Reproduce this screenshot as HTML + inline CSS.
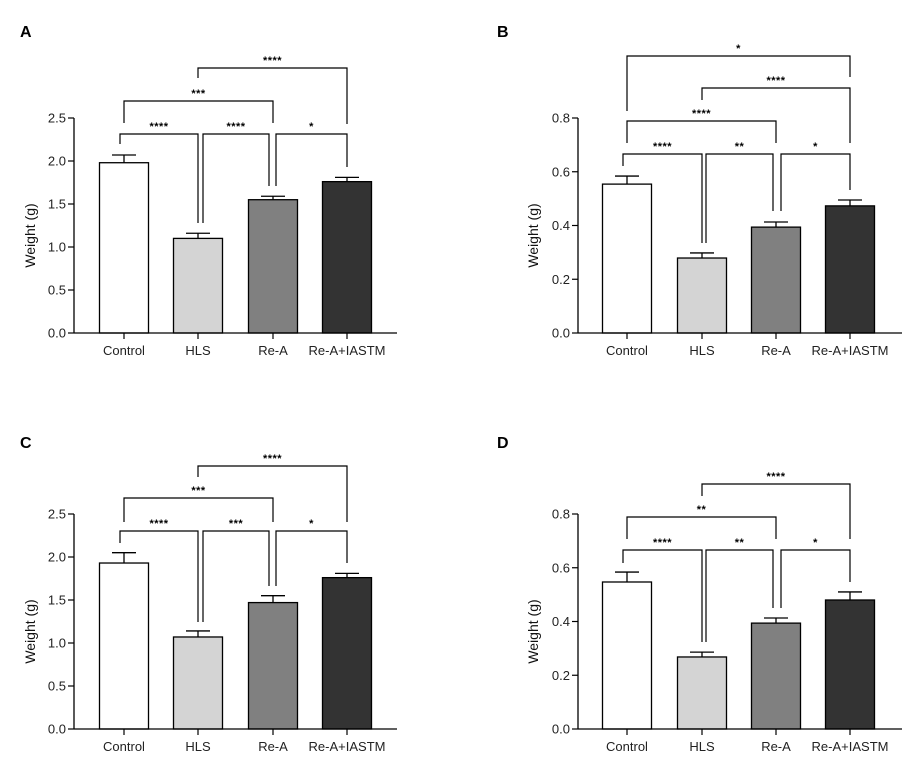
<!DOCTYPE html>
<html><head><meta charset="utf-8"><style>
html,body{margin:0;padding:0;background:#fff;}
svg{display:block;font-family:"Liberation Sans",Arial,sans-serif;}
</style></head><body>
<svg id="fig" width="924" height="773" viewBox="0 0 924 773" xmlns="http://www.w3.org/2000/svg"></svg>
<script>
const categories = ["Control","HLS","Re-A","Re-A+IASTM"];
const fills = ["#ffffff","#d4d4d4","#808080","#333333"];
const meansA = [1.98,1.10,1.55,1.76];
const errA   = [0.09,0.06,0.04,0.05];
const meansB = [0.554,0.279,0.394,0.473];
const errB   = [0.030,0.019,0.019,0.022];
const meansC = [1.93,1.07,1.47,1.76];
const errC   = [0.12,0.07,0.08,0.05];
const meansD = [0.547,0.268,0.394,0.480];
const errD   = [0.037,0.018,0.019,0.030];
const ticksBig = [0,0.5,1.0,1.5,2.0,2.5];
const ticksSmall = [0,0.2,0.4,0.6,0.8];
const sigA = ["****","****","*","***","****"];
const sigB = ["****","**","*","****","****","*"];
const sigC = ["****","***","*","***","****"];
const sigD = ["****","**","*","**","****"];

const NS="http://www.w3.org/2000/svg";
const svg=document.getElementById('fig');
function el(tag,attrs,parent){const e=document.createElementNS(NS,tag);for(const k in attrs)e.setAttribute(k,attrs[k]);(parent||svg).appendChild(e);return e;}

// panel: letter, axis x, top y, bottom y, right end, centers, ymax, ticks, decimals
const panels=[
 {id:"a",letter:"A",lx:20,ly:37,ax:74,top:118,bot:333,right:397,cx:[124,198,273,347],ymax:2.5,ticks:ticksBig,dec:1,means:meansA,err:errA,sig:sigA,titleX:35,
  br:[[0,1,134,144,223,-4,0],[1,2,134,223,186,5,-4],[2,3,134,186,167,3,0],[0,2,101,123,123,0,0],[1,3,68,78,124,0,0]]},
 {id:"b",letter:"B",lx:497,ly:37,ax:578,top:118,bot:333,right:902,cx:[627,702,776,850],ymax:0.8,ticks:ticksSmall,dec:1,means:meansB,err:errB,sig:sigB,titleX:538,
  br:[[0,1,154,166,243,-4,0],[1,2,154,243,211,4,-3],[2,3,154,211,190,5,0],[0,2,121,143,143,0,0],[1,3,88,100,143,0,0],[0,3,56,111,77,0,0]]},
 {id:"c",letter:"C",lx:20,ly:448,ax:74,top:514,bot:729,right:397,cx:[124,198,273,347],ymax:2.5,ticks:ticksBig,dec:1,means:meansC,err:errC,sig:sigC,titleX:35,
  br:[[0,1,531,543,622,-4,0],[1,2,531,622,586,5,-4],[2,3,531,586,563,3,0],[0,2,498,522,522,0,0],[1,3,466,477,522,0,0]]},
 {id:"d",letter:"D",lx:497,ly:448,ax:578,top:514,bot:729,right:902,cx:[627,702,776,850],ymax:0.8,ticks:ticksSmall,dec:1,means:meansD,err:errD,sig:sigD,titleX:538,
  br:[[0,1,550,563,642,-4,0],[1,2,550,642,608,4,-3],[2,3,550,608,582,5,0],[0,2,517,539,539,0,0],[1,3,484,496,539,0,0]]}
];

panels.forEach(p=>{
  const g=el('g',{});
  
  
  const y=v=>p.bot-(v/p.ymax)*(p.bot-p.top);
  const L=el('text',{x:p.lx,y:p.ly,'font-size':16,'font-weight':'bold',fill:'#000'},g);
  L.textContent=p.letter;
  
  
  // bars
  p.means.forEach((m,i)=>{
    const x=p.cx[i];
    const top=y(m), et=y(m+p.err[i]);
    const eb=el('line',{x1:x,x2:x,y1:top,y2:et,stroke:'#000','stroke-width':1.3},g);
    
    
    const cap=el('line',{x1:x-12,x2:x+12,y1:et,y2:et,stroke:'#000','stroke-width':1.3},g);
    
    
    const r=el('rect',{x:x-24.5,y:top,width:49,height:p.bot-top,fill:fills[i],stroke:'#000','stroke-width':1.3},g);
    
    
    const tk=el('line',{x1:x,x2:x,y1:p.bot,y2:p.bot+6,stroke:'#000','stroke-width':1.2},g);
    
    
    const t=el('text',{x:x,y:p.bot+22,'font-size':13,'text-anchor':'middle',fill:'#222'},g);
    t.textContent=categories[i];
    
    
  });
  // axes
  const ya=el('line',{x1:p.ax,x2:p.ax,y1:p.top,y2:p.bot,stroke:'#000','stroke-width':1.3},g);
  
  
  const xa=el('line',{x1:p.ax,x2:p.right,y1:p.bot,y2:p.bot,stroke:'#000','stroke-width':1.3},g);
  
  
  p.ticks.forEach(v=>{
    const yy=y(v);
    const tk=el('line',{x1:p.ax-6,x2:p.ax,y1:yy,y2:yy,stroke:'#000','stroke-width':1.2},g);
    
    
    const t=el('text',{x:p.ax-8,y:yy+4.5,'font-size':13,'text-anchor':'end',fill:'#222'},g);
    t.textContent=v.toFixed(p.dec);
    
    
  });
  const yt=el('text',{x:p.titleX,y:(p.top+p.bot)/2+10,'font-size':14,'text-anchor':'middle',fill:'#111',transform:'rotate(-90 '+p.titleX+' '+((p.top+p.bot)/2+10)+')'},g);
  yt.textContent='Weight (g)';
  
  
  // significance brackets
  p.br.forEach((b,k)=>{
    const [i,j,ly,l1,l2,dx1,dx2]=b;
    const x1=p.cx[i]+dx1, x2=p.cx[j]+dx2;
    const path=el('path',{d:`M${x1},${l1} V${ly} H${x2} V${l2}`,fill:'none',stroke:'#000','stroke-width':1.2},g);
    
    
    const t=el('text',{x:(x1+x2)/2,y:ly-4,'font-size':11,'font-weight':'bold','text-anchor':'middle',fill:'#000','letter-spacing':'0.5'},g);
    t.textContent=p.sig[k];
    
    
  });
});
</script>
</body></html>
